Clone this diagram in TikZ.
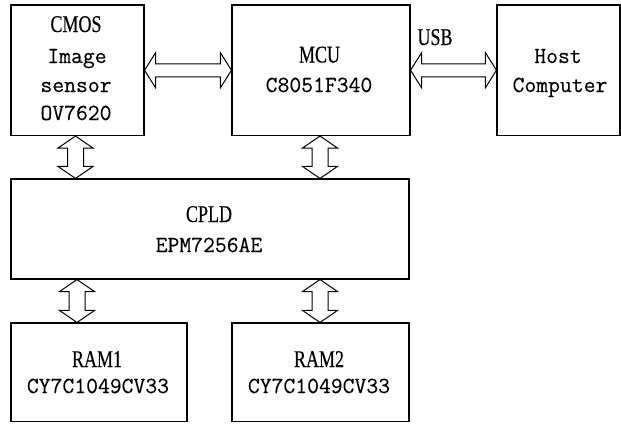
\documentclass[tikz,border=0pt]{standalone}
\usepackage{fontspec}
\newfontfamily\labfont[FakeStretch=0.75,FakeBold=0.3]{Liberation Serif}
\newfontfamily\monofont[FakeBold=0.3]{Latin Modern Mono}
\usetikzlibrary{calc}
\newcommand{\hdarrow}[2]{%
  \draw[dblarr] (#1) -- ($(#1)+(11,17.5)$) -- ($(#1)+(11,6.5)$) -- ($(#2)+(-11,6.5)$)
    -- ($(#2)+(-11,17.5)$) -- (#2) -- ($(#2)+(-11,-17.5)$) -- ($(#2)+(-11,-6.5)$)
    -- ($(#1)+(11,-6.5)$) -- ($(#1)+(11,-17.5)$) -- cycle;}
\newcommand{\vdarrow}[2]{%
  \draw[dblarr] (#1) -- ($(#1)+(17.5,12)$) -- ($(#1)+(8,12)$) -- ($(#2)+(8,-12)$)
    -- ($(#2)+(17.5,-12)$) -- (#2) -- ($(#2)+(-17.5,-12)$) -- ($(#2)+(-8,-12)$)
    -- ($(#1)+(-8,12)$) -- ($(#1)+(-17.5,12)$) -- cycle;}
\begin{document}
\begin{tikzpicture}[x=1pt,y=-1pt,
  blk/.style={draw=black, line width=1.1pt, inner sep=0pt},
  dblarr/.style={draw=black, line width=1pt, line join=miter},
  ttl/.style={anchor=base, inner sep=0pt, font=\labfont\fontsize{24}{24}\selectfont},
  mono/.style={anchor=base, inner sep=0pt, font=\monofont\fontsize{23}{23}\selectfont}]
\useasboundingbox (0,0) rectangle (621,423);
% boxes
\node[blk, minimum width=133pt, minimum height=130.5pt] (cmos) at (77.5,70.25) {};
\node[blk, minimum width=178pt, minimum height=130.5pt] (mcu) at (321,70.25) {};
\node[blk, minimum width=123pt, minimum height=130.5pt] (host) at (558.5,70.25) {};
\node[blk, minimum width=398pt, minimum height=100pt] (cpld) at (210,229) {};
\node[blk, minimum width=176pt, minimum height=98.5pt] (ram1) at (99,372.25) {};
\node[blk, minimum width=177pt, minimum height=98.5pt] (ram2) at (320.5,372.25) {};
% texts
\node[ttl] (t1) at (76,32) {CMOS};
\node[mono] (t2) at (77,63) {Image};
\node[mono] (t3) at (76,92) {sensor};
\node[mono] (t4) at (76,120) {OV7620};
\node[ttl] (t5) at (319.5,62.5) {MCU};
\node[mono] (t6) at (319,92) {C8051F340};
\node[mono] (t7) at (558,63) {Host};
\node[mono] (t8) at (560,92) {Computer};
\node[ttl] (t9) at (209,222) {CPLD};
\node[mono] (t10) at (209,252) {EPM7256AE};
\node[ttl] (t11) at (97,367) {RAM1};
\node[mono] (t12) at (98,393) {CY7C1049CV33};
\node[ttl] (t13) at (319,367) {RAM2};
\node[mono] (t14) at (319,393) {CY7C1049CV33};
\node[ttl] (usb) at (435,45) {USB};
% connector end points
\coordinate (a1) at (cmos.south -| 75.5,0);
\coordinate (a2) at (cpld.north -| 75.5,0);
\coordinate (b1) at (mcu.south -| 320,0);
\coordinate (b2) at (cpld.north -| 320,0);
\coordinate (c1) at (cpld.south -| 77,0);
\coordinate (c2) at (ram1.north -| 77,0);
\coordinate (d1) at (cpld.south -| 320,0);
\coordinate (d2) at (ram2.north -| 320,0);
% connectors
\hdarrow{cmos.east}{mcu.west}
\hdarrow{mcu.east}{host.west}
\vdarrow{a1}{a2}
\vdarrow{b1}{b2}
\vdarrow{c1}{c2}
\vdarrow{d1}{d2}
\end{tikzpicture}
\end{document}
